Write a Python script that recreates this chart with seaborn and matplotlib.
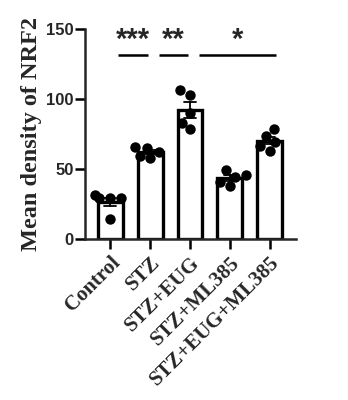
import numpy as np
import pandas as pd
import matplotlib
matplotlib.use("Agg")
import matplotlib.pyplot as plt
import seaborn as sns

# -----------------------------
# Data
# -----------------------------
groups = ["Control", "STZ", "STZ+EUG", "STZ+ML385", "STZ+EUG+ML385"]

control = [31.4, 29.0, 29.0, 29.0, 14.0]
stz = [66.0, 64.8, 62.4, 59.3, 57.6]
stz_eug = [106.4, 102.9, 89.8, 83.1, 78.3]
stz_ml385 = [49.3, 45.7, 44.5, 40.9, 37.9]
stz_eug_ml385 = [78.3, 73.6, 69.5, 66.4, 63.1]

# significance brackets: (start group, end group, label)
sig_pairs = [(0, 1, "***"), (1, 2, "**"), (2, 4, "*")]

values = [control, stz, stz_eug, stz_ml385, stz_eug_ml385]
df = pd.DataFrame({
    "group": np.repeat(groups, [len(v) for v in values]),
    "density": np.concatenate(values),
})

# -----------------------------
# Plot
# -----------------------------
sns.set_style("ticks")
plt.rcParams["font.family"] = ["Liberation Sans", "DejaVu Sans"]

fig = plt.figure(figsize=(3.48, 4.0), dpi=100)
ax = fig.add_axes([0.243, 0.4025, 0.608, 0.525])

sns.barplot(
    data=df, x="group", y="density", order=groups,
    errorbar="se", capsize=0.3, width=0.62,
    color="white", edgecolor="black", linewidth=2.4,
    err_kws={"color": "black", "linewidth": 1.3},
    ax=ax,
)
sns.swarmplot(
    data=df, x="group", y="density", order=groups,
    color="black", size=7.5, ax=ax,
)

# significance lines and stars
line_y = 131.5
for start, end, label in sig_pairs:
    x0 = start + 0.2 if start == 0 else start + 0.23
    x1 = end - 0.05 if end - start == 1 else end + 0.17
    ax.plot([x0, x1], [line_y, line_y], color="black", linewidth=1.8,
            solid_capstyle="butt")
    ax.text((x0 + x1) / 2, line_y + 0.5, label, ha="center", va="bottom",
            fontsize=21, fontweight="bold")

ax.set_ylim(0, 150)
ax.set_xlim(-0.65, 4.67)
ax.set_yticks([0, 50, 100, 150])
ax.set_xlabel("")
ax.set_ylabel("Mean density of NRF2", fontsize=17.5, fontweight="bold",
              family="Liberation Serif", labelpad=3)

for lbl in ax.get_yticklabels():
    lbl.set_fontweight("bold")
    lbl.set_fontsize(12)

ax.set_xticks(range(len(groups)))
ax.set_xticklabels(groups, rotation=45, ha="right", va="top",
                   rotation_mode="anchor",
                   fontsize=15, fontweight="bold", family="Liberation Serif")

ax.tick_params(axis="both", width=1.8, length=7, color="black")
ax.tick_params(axis="y", pad=1)
ax.tick_params(axis="x", pad=3)
for side in ["left", "bottom"]:
    ax.spines[side].set_linewidth(1.8)
sns.despine(ax=ax)

plt.savefig("out.png", dpi=100)
